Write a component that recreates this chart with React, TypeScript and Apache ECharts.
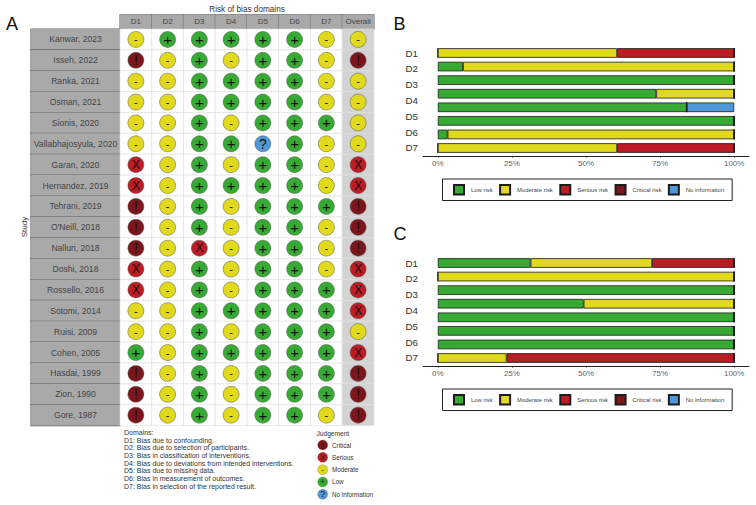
import React, { useEffect, useRef } from "react";
import * as echarts from "echarts";

const FONT = "Liberation Sans";
const studies = ["Kanwar, 2023","Isseh, 2022","Ranka, 2021","Osman, 2021","Sionis, 2020","Vallabhajosyula, 2020","Garan, 2020","Hernandez, 2019","Tehrani, 2019","O'Neill, 2018","Nalluri, 2018","Doshi, 2018","Rossello, 2016","Sotomi, 2014","Ruisi, 2009","Cohen, 2005","Hasdai, 1999","Zion, 1990","Gore, 1987"];
const domainNames = ["D1","D2","D3","D4","D5","D6","D7","Overall"];
const D1 = ["M","C","M","M","M","M","S","S","C","C","C","S","S","M","M","L","C","C","C"];
const D2 = ["L","M","M","M","M","M","M","M","M","M","M","M","M","M","M","M","M","M","M"];
const D3 = ["L","L","L","L","L","L","L","L","L","L","S","L","L","L","L","L","L","L","L"];
const D4 = ["L","M","L","L","M","L","M","L","M","M","M","M","M","L","M","L","M","M","M"];
const D5 = ["L","L","L","L","L","N","L","L","L","L","L","L","L","L","L","L","L","L","L"];
const D6 = ["L","L","L","L","L","L","L","L","L","L","L","L","L","L","L","L","L","L","L"];
const D7 = ["M","M","M","M","L","M","M","M","L","M","M","M","L","L","L","L","L","L","M"];
const Overall = ["M","C","M","M","M","M","S","S","C","C","C","S","S","S","M","S","C","C","C"];
const judgementColumns = [D1, D2, D3, D4, D5, D6, D7, Overall];

const barRows = ["R1","R2","R3","R4","R5","R6","R7","R8"];
const axisLabels = ["D1","D2","D3","D4","D5","D6","D7"];
const seriesNames = ["Low risk","Moderate risk","Serious risk","Critical risk","No information"];
const bLow = [0,8.5,100,73.7,84,100,3.3,0];
const bModerate = [60.5,91.5,0,26.3,0,0,96.7,60.5];
const bSerious = [39.5,0,0,0,0,0,0,39.5];
const bCritical = [0,0,0,0,0,0,0,0];
const bNoInfo = [0,0,0,0,16,0,0,0];
const cLow = [31.3,0,100,49.2,100,100,100,0];
const cModerate = [41,100,0,50.8,0,0,0,23.2];
const cSerious = [27.7,0,0,0,0,0,0,76.8];
const cCritical = [0,0,0,0,0,0,0,0];
const cNoInfo = [0,0,0,0,0,0,0,0];
const percentTicks = [0,25,50,75,100];

const domainNotes = ["Domains:","D1: Bias due to confounding.","D2: Bias due to selection of participants.","D3: Bias in classification of interventions.","D4: Bias due to deviations from intended interventions.","D5: Bias due to missing data.","D6: Bias in measurement of outcomes.","D7: Bias in selection of the reported result."];
const judgementLegend = [["C","Critical"],["S","Serious"],["M","Moderate"],["L","Low"],["N","No information"]];

const COLORS: Record<string, string> = { L: "#37AA34", M: "#E0D91C", S: "#BC1C24", C: "#7D151B", N: "#4E97D8" };
const SIGNS: Record<string, string> = { L: "+", M: "-", S: "X", C: "!", N: "?" };
const SIGN_SIZE: Record<string, number> = { L: 15, M: 11, S: 12, C: 14, N: 14 };
const barColors = [COLORS.L, COLORS.M, COLORS.S, COLORS.C, COLORS.N];

function barPanel(offsetY: number, gridIdx: number) {
  return {
    grids: [
      { left: 423, width: 326, top: 46.2 + offsetY, height: 108.6 },
      { left: 423, width: 326, top: 53.2 + offsetY, height: 94.6 },
    ],
    xAxes: [
      {
        gridIndex: gridIdx, type: "value", min: -5, max: 105, offset: 1,
        splitLine: { show: false },
        axisLine: { show: true, lineStyle: { color: "#222", width: 1 } },
        axisTick: { show: true, length: 2, customValues: percentTicks, lineStyle: { color: "#333", width: 0.7 } },
        axisLabel: { customValues: percentTicks, formatter: "{value}%", color: "#666", fontSize: 8, fontFamily: FONT, margin: 4 },
      },
      { gridIndex: gridIdx + 1, type: "value", show: false },
    ],
    yAxes: [
      { gridIndex: gridIdx, type: "category", inverse: true, data: barRows, axisLine: { show: false }, axisTick: { show: false }, axisLabel: { show: false } },
      {
        gridIndex: gridIdx + 1, type: "category", inverse: true, boundaryGap: false, data: axisLabels,
        axisLine: { show: false }, axisTick: { show: false },
        axisLabel: { interval: 0, color: "#333", fontSize: 9.8, fontFamily: FONT, margin: 5 },
      },
    ],
  };
}

export default function App() {
  const ref = useRef<HTMLDivElement>(null);
  useEffect(() => {
    document.body.style.margin = "0";
    const chart = echarts.init(ref.current!, null, { renderer: "svg" });
    const pB = barPanel(0, 1);
    const pC = barPanel(210, 3);

    const cells: any[] = [];
    const marks: any[] = [];
    judgementColumns.forEach((col, x) => {
      col.forEach((j, y) => {
        cells.push([x, y]);
        marks.push({
          value: [x, y],
          itemStyle: { color: COLORS[j] },
          label: { formatter: SIGNS[j], fontSize: SIGN_SIZE[j] },
        });
      });
    });

    const makeBars = (values: number[][], stack: string, xi: number, yi: number) =>
      seriesNames.map((name, i) => ({
        name, type: "bar", stack, xAxisIndex: xi, yAxisIndex: yi, barWidth: 9.6,
        data: values[i],
        itemStyle: { color: barColors[i], borderColor: "#1c1c1c", borderWidth: 0.8 },
      }));

    const legendBase = (top: number) => ({
      left: 442.5, top, width: 300, icon: "rect", itemWidth: 10, itemHeight: 9.5, itemGap: 6.5,
      padding: [5, 8, 5, 10.5], borderColor: "#222", borderWidth: 1,
      data: seriesNames, selectedMode: false,
      textStyle: { fontSize: 5.9, color: "#444", fontFamily: FONT, padding: [0, 0, 0, 2] },
    });

    const txt = (text: string, x: number, y: number, fontSize: number, extra: any = {}) => ({
      type: "text", x, y, silent: true,
      style: { text, fontSize, fontFamily: FONT, fill: "#333", textVerticalAlign: "middle", textAlign: "left", ...extra },
    });

    const graphics: any[] = [
      txt("A", 12, 23.5, 18, { textAlign: "center", fill: "#111" }),
      txt("B", 399.5, 23.5, 18, { textAlign: "center", fill: "#111" }),
      txt("C", 400, 233.5, 18, { textAlign: "center", fill: "#111" }),
      txt("Risk of bias domains", 247, 9.7, 8.2, { textAlign: "center" }),
      { ...txt("Study", 24, 227, 8, { textAlign: "center" }), rotation: Math.PI / 2 },
      txt("Judgement", 316.5, 433, 6.6),
    ];
    domainNotes.forEach((line, i) => graphics.push(txt(line, 124, 432.3 + i * 7.72, 7)));
    judgementLegend.forEach(([code, name], i) => {
      const y = 445 + i * 12.33;
      graphics.push({ type: "circle", silent: true, shape: { cx: 322.7, cy: y, r: 5 }, style: { fill: COLORS[code], stroke: "#666", lineWidth: 0.3 } });
      graphics.push(txt(SIGNS[code], 322.7, y, code === "N" ? 9 : 8, { textAlign: "center", fill: "#222" }));
      graphics.push(txt(name, 332, y, 6.3));
    });

    chart.setOption({
      animation: false,
      backgroundColor: "#fff",
      grid: [{ left: 120, width: 254, top: 29, height: 396.6 }, ...pB.grids, ...pC.grids],
      xAxis: [
        {
          gridIndex: 0, type: "category", position: "top", data: domainNames,
          axisLine: { show: false }, axisTick: { show: false }, splitLine: { show: false },
          axisLabel: {
            interval: 0, margin: 0, formatter: (v: string) => `{a|${v}}`,
            rich: { a: { width: 31.75, height: 14.5, lineHeight: 14.5, align: "center", backgroundColor: "#A9A9A9", borderColor: "#777", borderWidth: 0.6, color: "#444", fontSize: 8, fontFamily: FONT } },
          },
        },
        ...pB.xAxes, ...pC.xAxes,
      ],
      yAxis: [
        {
          gridIndex: 0, type: "category", inverse: true, data: studies,
          axisLine: { show: false }, axisTick: { show: false }, splitLine: { show: false },
          axisLabel: {
            interval: 0, margin: 0, formatter: (v: string) => `{a|${v}}`,
            rich: { a: { width: 89, height: 20.87, lineHeight: 20.87, align: "center", backgroundColor: "#A9A9A9", borderColor: "#666", borderWidth: 0.6, color: "#444", fontSize: 8.6, fontFamily: FONT } },
          },
        },
        ...pB.yAxes, ...pC.yAxes,
      ],
      legend: [legendBase(179), legendBase(389)],
      series: [
        {
          type: "custom", xAxisIndex: 0, yAxisIndex: 0, data: cells, silent: true, z: 1,
          renderItem: (_: any, api: any) => {
            const p = api.coord([api.value(0), api.value(1)]);
            const s = api.size([1, 1]);
            return {
              type: "rect",
              shape: { x: p[0] - s[0] / 2, y: p[1] - s[1] / 2, width: s[0], height: s[1] },
              style: { fill: api.value(0) === 7 ? "#D3D3D3" : "#fff", stroke: "#DDD", lineWidth: 0.6 },
            };
          },
        },
        {
          type: "scatter", xAxisIndex: 0, yAxisIndex: 0, symbolSize: 16, z: 2, silent: true, data: marks,
          itemStyle: { borderColor: "#555", borderWidth: 0.5, opacity: 1 },
          label: { show: true, position: "inside", color: "#111", fontFamily: FONT },
        },
        ...makeBars([bLow, bModerate, bSerious, bCritical, bNoInfo], "B", 1, 1),
        ...makeBars([cLow, cModerate, cSerious, cCritical, cNoInfo], "C", 3, 3),
      ],
      graphic: { elements: graphics },
    });
    return () => chart.dispose();
  }, []);
  return <div ref={ref} style={{ width: 756, height: 505 }} />;
}
